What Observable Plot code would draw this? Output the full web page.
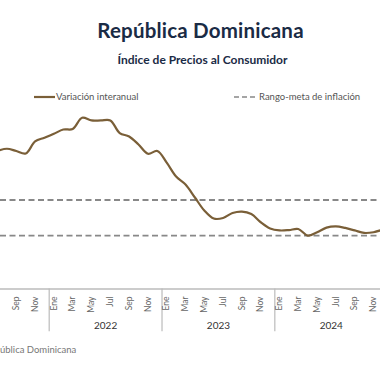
<!DOCTYPE html>
<html>
<head>
<meta charset="utf-8">
<script src="https://cdn.jsdelivr.net/npm/d3@7"></script>
<script src="https://cdn.jsdelivr.net/npm/@observablehq/plot@0.6"></script>
<style>
  html, body { margin:0; padding:0; background:#fff; }
  body { width:380px; height:380px; position:relative; overflow:hidden; font-family: Lato, "Noto Sans", sans-serif; }
  .title { position:absolute; top:18px; left:0; width:401px; text-align:center; font-weight:700; font-size:20.5px; color:#1a2b45; letter-spacing:0.2px; }
  .subtitle { position:absolute; top:52px; left:0; width:405px; text-align:center; font-weight:700; font-size:12px; color:#1a2b45; }
  .legend { position:absolute; top:91px; font-size:9.5px; color:#555; display:flex; align-items:center; white-space:nowrap; }
  .source { position:absolute; top:344px; left:0; font-size:9.5px; color:#777; white-space:nowrap; }
  #chart { position:absolute; top:105px; left:0; }
</style>
</head>
<body>
<div class="title">República Dominicana</div>
<div class="subtitle">Índice de Precios al Consumidor</div>
<div class="legend" style="left:34px"><svg width="22" height="6"><line x1="0" y1="3" x2="21" y2="3" stroke="#7a5f38" stroke-width="2.2"/></svg><span>Variación interanual</span></div>
<div class="legend" style="left:234px"><svg width="25" height="6"><line x1="0" y1="3" x2="24" y2="3" stroke="#888" stroke-width="1.6" stroke-dasharray="5,3"/></svg><span>Rango-meta de inflación</span></div>
<div class="source">ública Dominicana</div>
<div id="chart"></div>
<script>
const months = ["2021-07","2021-08","2021-09","2021-10","2021-11","2021-12",
  "2022-01","2022-02","2022-03","2022-04","2022-05","2022-06","2022-07","2022-08","2022-09","2022-10","2022-11","2022-12",
  "2023-01","2023-02","2023-03","2023-04","2023-05","2023-06","2023-07","2023-08","2023-09","2023-10","2023-11","2023-12",
  "2024-01","2024-02","2024-03","2024-04","2024-05","2024-06","2024-07","2024-08","2024-09","2024-10","2024-11","2024-12"];
const inflation = [7.75,7.88,7.75,7.61,8.29,8.50,
  8.72,8.96,8.99,9.62,9.47,9.47,9.47,8.76,8.57,8.12,7.60,7.75,
  7.10,6.32,5.87,5.14,4.41,3.96,3.99,4.27,4.35,4.21,3.75,3.40,
  3.29,3.31,3.37,3.00,3.19,3.45,3.52,3.43,3.29,3.15,3.19,3.34];
const targetBand = [3, 5];
const monthNames = ["Ene","Feb","Mar","Abr","May","Jun","Jul","Ago","Sep","Oct","Nov","Dic"];
const tickMonths = ["2021-09","2021-11",
  "2022-01","2022-03","2022-05","2022-07","2022-09","2022-11",
  "2023-01","2023-03","2023-05","2023-07","2023-09","2023-11",
  "2024-01","2024-03","2024-05","2024-07","2024-09","2024-11"];
const yearLabels = [2022, 2023, 2024];

const idx = s => { const [y, m] = s.split("-").map(Number); return (y - 2022) * 12 + (m - 1); };
const data = months.map((s, i) => ({m: idx(s), v: inflation[i]}));
const labelTicks = tickMonths.map(s => ({m: idx(s), label: monthNames[Number(s.split("-")[1]) - 1]}));
const separators = [-0.5, 11.5, 23.5, 35.5];

const chart = Plot.plot({
  width: 380,
  height: 275,
  marginLeft: 0,
  marginRight: 0,
  marginTop: 5.5,
  marginBottom: 91.5,
  x: {type: "linear", domain: [-5.68, 34.74], axis: null},
  y: {domain: [0, 10], axis: null},
  marks: [
    Plot.ruleY(targetBand, {stroke: "#888", strokeWidth: 1.8, strokeDasharray: "6,3.5"}),
    Plot.ruleY([0], {stroke: "#bbb", strokeWidth: 1.5}),
    Plot.ruleX(separators, {y1: 0, y2: -2.4, stroke: "#bbb", strokeWidth: 1.2}),
    Plot.text(labelTicks, {x: "m", y: 0, text: "label", rotate: -90, textAnchor: "end", dy: 7.5, fontSize: 8.5, fill: "#666", fontFamily: "Lato, sans-serif"}),
    Plot.text(yearLabels, {x: d => (d - 2022) * 12 + 5.5, y: 0, text: d => String(d), dy: 36.5, fontSize: 10, fill: "#333", fontFamily: "Lato, sans-serif"}),
    Plot.lineY(data, {x: "m", y: "v", stroke: "#7a5f38", strokeWidth: 2.2, curve: "catmull-rom", clip: true})
  ]
});
document.getElementById("chart").appendChild(chart);
</script>
</body>
</html>
